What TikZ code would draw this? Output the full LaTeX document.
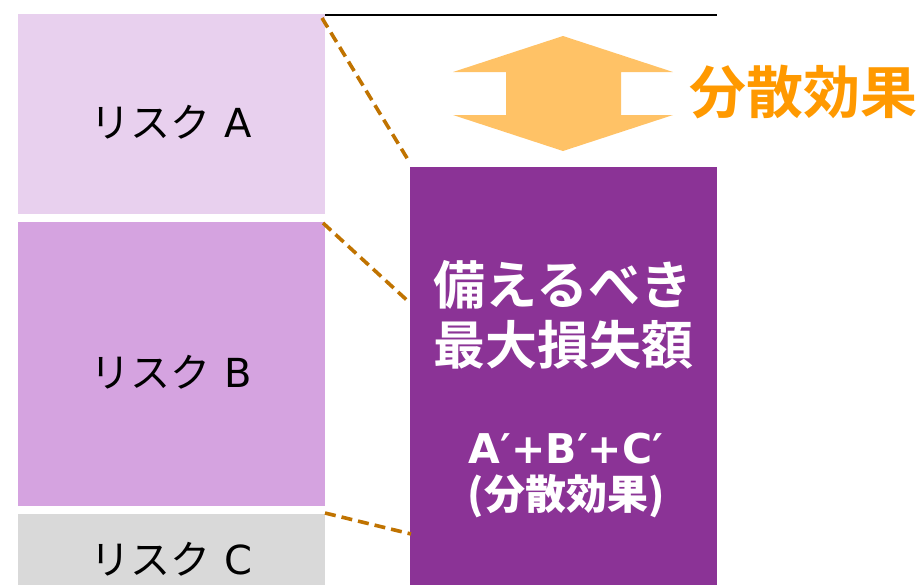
\documentclass[tikz,border=0pt]{standalone}
\usepackage{fontspec}
\setmainfont{Noto Sans CJK JP}
\newfontfamily\jp{Noto Sans CJK JP}
\newfontfamily\jpb{Noto Sans CJK JP Bold}
\newfontfamily\lat{DejaVu Sans}
\definecolor{riskA}{RGB}{232,208,238}
\definecolor{riskB}{RGB}{213,163,224}
\definecolor{riskC}{RGB}{217,217,217}
\definecolor{mainpurple}{RGB}{139,51,150}
\definecolor{dashbrown}{RGB}{192,115,0}
\definecolor{arrowfill}{RGB}{255,194,102}
\definecolor{textorange}{RGB}{255,153,0}
\begin{document}
\begin{tikzpicture}[x=1pt,y=-1pt,
  box/.style={draw=none,rectangle,inner sep=0pt,anchor=north west},
  lbl/.style={font=\fontsize{40}{44}\selectfont\jp,inner sep=0pt},
  link/.style={draw=dashbrown,line width=3.6pt,dash pattern=on 11pt off 6pt}]
\useasboundingbox (0,0) rectangle (924,584);
\node[box,fill=riskA,minimum width=307pt,minimum height=200pt] (ra) at (18,14) {};
\node[box,fill=riskB,minimum width=307pt,minimum height=284pt] (rb) at (18,222) {};
\node[box,fill=riskC,minimum width=307pt,minimum height=80pt] (rc) at (18,514) {};
\node[box,fill=mainpurple,minimum width=307pt,minimum height=430pt] (tot) at (410,167) {};
\begin{scope}
\clip (0,0) rectangle (924,584);
\node[lbl] (la) at (171,122) {リスク\hspace*{14pt}{\lat A}};
\node[lbl] (lb) at (171,372) {リスク\hspace*{14pt}{\lat B}};
\node[lbl] (lc) at (171,559) {リスク\hspace*{14pt}{\lat C}};
\end{scope}
\node[font=\fontsize{52}{60}\selectfont\jpb,text=white,align=center,inner sep=0pt] (tt) at (563,315) {備えるべき\\最大損失額};
\node[font=\fontsize{41}{46}\selectfont\bfseries,text=white,align=center,inner sep=0pt] (ts) at (566,475) {{\lat\bfseries A′+B′+C′}\\{\jpb (分散効果)}};
\coordinate (lineR) at (717,14.5);
\draw[line width=2pt] (ra.north east) ++(0,0.5) -- (lineR);
\path[fill=arrowfill] (563,36) -- (673,72) -- (621,72) -- (621,115) -- (673,115) -- (563,151) -- (453,115) -- (506,115) -- (506,72) -- (453,72) -- cycle;
\node[font=\fontsize{57}{60}\selectfont\jpb,text=textorange,anchor=west,inner sep=0pt] (eff) at (689,92) {分散効果};
\coordinate (a1) at (322,18);
\coordinate (a2) at (410,163);
\coordinate (b1) at (323,223);
\coordinate (b2) at (410,303);
\coordinate (c1) at (325,513);
\coordinate (c2) at (411,534);
\draw[link] (a1) -- (a2);
\draw[link] (b1) -- (b2);
\draw[link] (c1) -- (c2);
\end{tikzpicture}
\end{document}
